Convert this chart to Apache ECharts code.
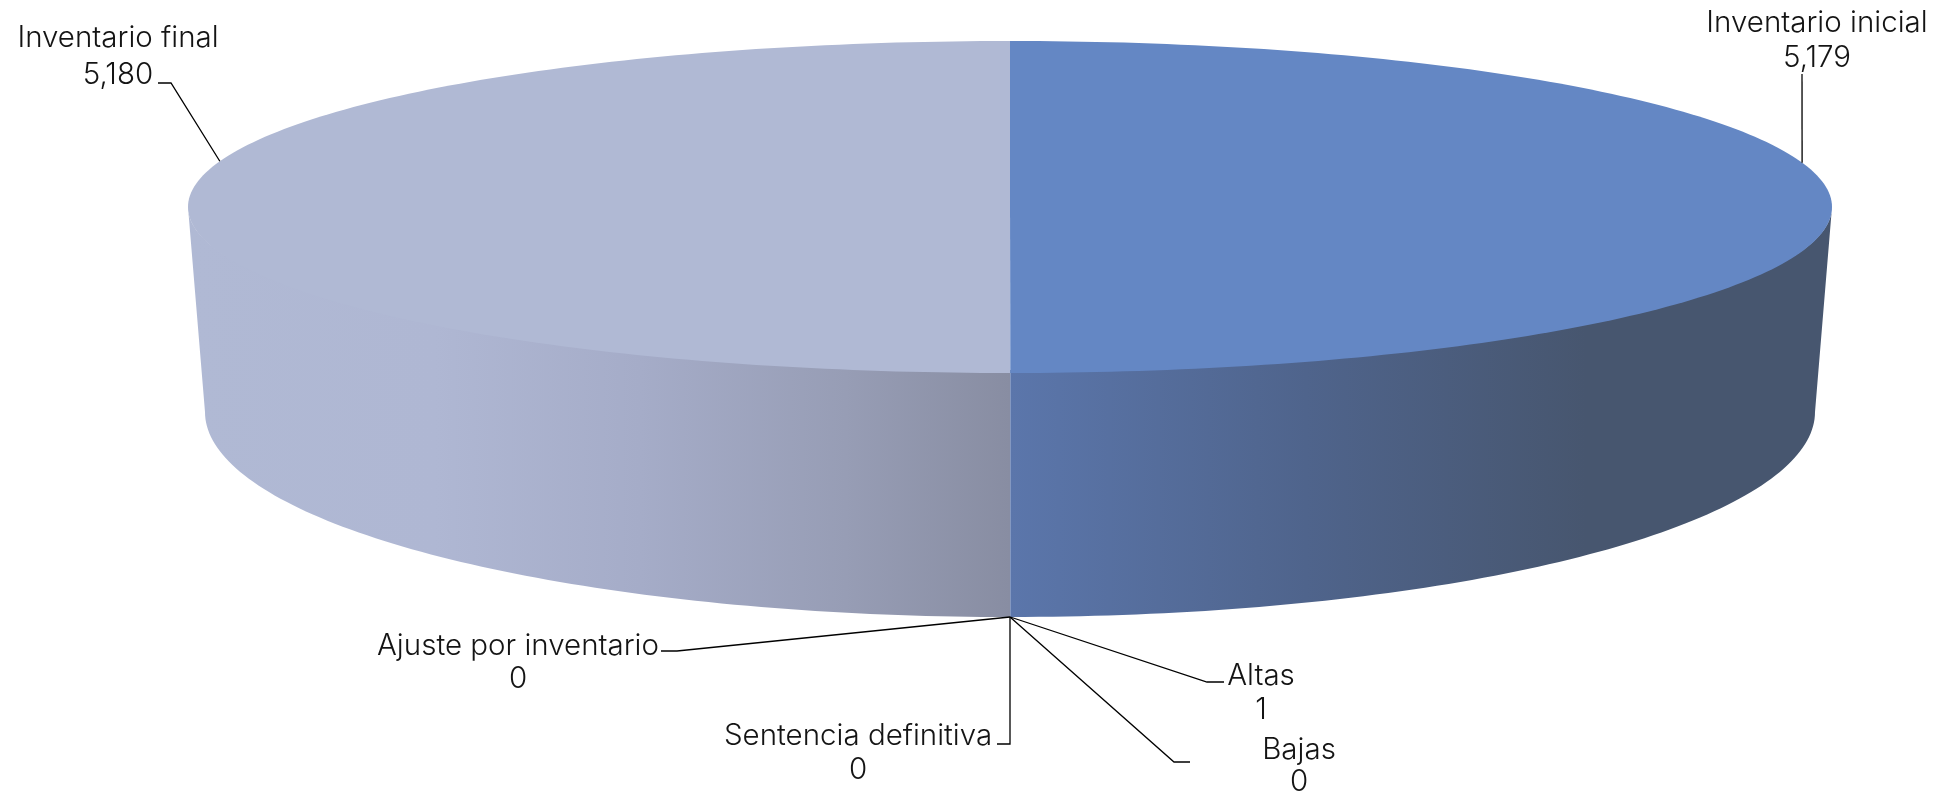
<!DOCTYPE html>
<html>
<head>
<meta charset="utf-8">
<style>html,body{margin:0;padding:0;background:#fff}#c{width:1942px;height:794px}</style>
<script src="https://cdn.jsdelivr.net/npm/echarts@6/dist/echarts.min.js"></script>
</head>
<body>
<div id="c"></div>
<script>
const categories = ['Inventario inicial', 'Altas', 'Bajas', 'Sentencia definitiva', 'Ajuste por inventario', 'Inventario final'];
const values = [5179, 1, 0, 0, 0, 5180];
const topColors = ['#6487c4', '#6487c4', '#8a9cc8', '#8a9cc8', '#8a9cc8', '#b0b9d4'];
const wallStops = [
  [[0, '#5b76ab'], [0.36, '#4f648c'], [0.7, '#47566f'], [1, '#47566f']],
  [[0, '#5b76ab'], [1, '#5b76ab']],
  [[0, '#8a8fa3'], [1, '#8a8fa3']],
  [[0, '#8a8fa3'], [1, '#8a8fa3']],
  [[0, '#8a8fa3'], [1, '#8a8fa3']],
  [[0, '#888da2'], [0.2, '#979db5'], [0.45, '#a5acc8'], [0.7, '#afb7d3'], [1, '#b0b9d4']]
];
const topRim = {cx: 1010, cy: 207, rx: 822, ry: 166};
const wallRim = {cx: 1010, cy: 207, rx: 822, ry: 163};
const baseRim = {cx: 1010, cy: 412, rx: 805, ry: 205};
// label placement: text centre x, line centres y, elbow and end of the leader
const labelLayout = [
  {x: 1817, y: [23, 58], rimAngle: 74.5, elbow: [1802, 74], end: [1802, 74]},
  {x: 1261, y: [676, 710], elbow: [1207, 682], end: [1224, 682]},
  {x: 1299, y: [750, 782], elbow: [1174, 762], end: [1190, 762]},
  {x: 858, y: [736, 770], elbow: [1010, 744], end: [997, 744]},
  {x: 518, y: [646, 679], elbow: [677, 651], end: [661, 651]},
  {x: 118, y: [38, 75], rimAngle: -74, elbow: [171, 83], end: [158, 83]}
];

const total = values.reduce((a, b) => a + b, 0);
const startAngles = [];
values.reduce((acc, v, i) => { startAngles[i] = acc; return acc + v / total * 360; }, 0);

function rimPoint(rim, deg) {
  const a = deg * Math.PI / 180;
  return [rim.cx + rim.rx * Math.sin(a), rim.cy - rim.ry * Math.cos(a)];
}
function arc(rim, from, to) {
  const n = Math.max(2, Math.ceil(Math.abs(to - from)));
  const pts = [];
  for (let i = 0; i <= n; i++) pts.push(rimPoint(rim, from + (to - from) * i / n));
  return pts;
}
function renderSlice(params, api) {
  const i = params.dataIndex;
  const v = api.value(0);
  const start = startAngles[i];
  const end = start + v / total * 360;
  const children = [];
  if (v > 0) {
    const wFrom = Math.max(start, 90), wTo = Math.min(end, 270);
    if (wTo > wFrom) {
      const right = start < 180;
      children.push({
        type: 'polygon',
        shape: {points: arc(wallRim, wFrom, wTo).concat(arc(baseRim, wTo, wFrom))},
        style: {fill: {
          type: 'linear', global: true, y: 0, y2: 0,
          x: topRim.cx, x2: right ? topRim.cx + topRim.rx : topRim.cx - topRim.rx,
          colorStops: wallStops[i].map(s => ({offset: s[0], color: s[1]}))
        }}
      });
    }
    children.push({
      type: 'polygon',
      shape: {points: [[topRim.cx, topRim.cy]].concat(arc(topRim, start, end))},
      style: {fill: topColors[i]}
    });
  }
  const lay = labelLayout[i];
  const anchor = lay.rimAngle !== undefined ? rimPoint(topRim, lay.rimAngle) : rimPoint(baseRim, (start + end) / 2);
  children.push({
    type: 'polyline',
    z2: 10,
    shape: {points: [anchor, lay.elbow, lay.end]},
    style: {stroke: '#000', lineWidth: 1.3, fill: null}
  });
  [categories[i], v.toLocaleString('en-US')].forEach((t, k) => {
    children.push({
      type: 'text',
      z2: 11,
      style: {
        x: lay.x, y: lay.y[k], text: t, fill: '#141414',
        font: '300 29.5px Inter', align: 'center', verticalAlign: 'middle'
      }
    });
  });
  return {type: 'group', children};
}

const chart = echarts.init(document.getElementById('c'), null, {renderer: 'canvas'});
chart.setOption({
  backgroundColor: '#ffffff',
  animation: false,
  series: [{
    type: 'custom',
    coordinateSystem: 'none',
    renderItem: renderSlice,
    data: values.map((v, i) => ({name: categories[i], value: [v]}))
  }]
});
</script>
</body>
</html>
